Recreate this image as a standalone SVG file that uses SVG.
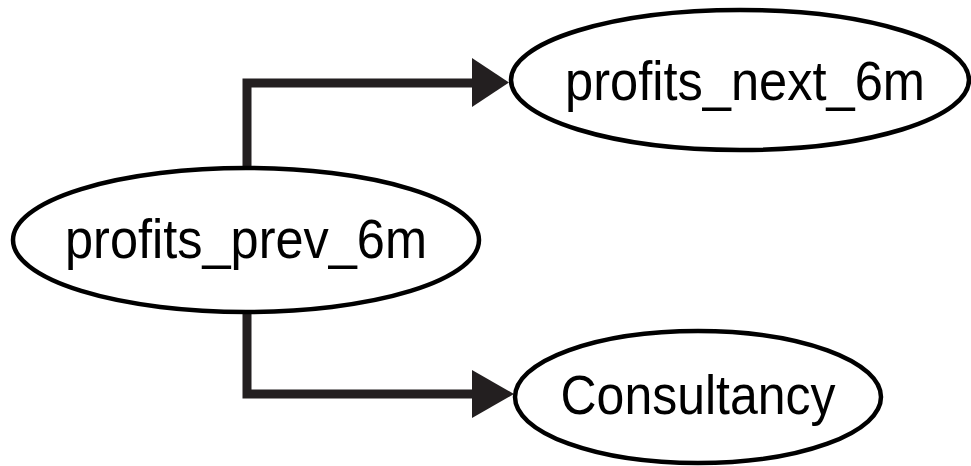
<svg xmlns="http://www.w3.org/2000/svg" width="971" height="466" viewBox="0 0 971 466">
<style>
.node ellipse{fill:#fff;stroke:#000;stroke-width:4.5}
.node text{font-family:"Liberation Sans",Arial,sans-serif;font-size:55px;fill:#000;text-anchor:middle}
.edge{fill:none;stroke:#231f20;stroke-width:9}
.head{fill:#231f20}
</style>
<rect width="971" height="466" fill="#fff"/>
<g id="connectors">
<path class="edge" d="M247 167 V83 H476"/>
<polygon class="head" points="472,58 509,82.5 472,107"/>
<path class="edge" d="M247 313 V394 H476"/>
<polygon class="head" points="472,370 514,394 472,418"/>
</g>
<g id="profits_prev_6m" class="node">
<ellipse cx="246" cy="240" rx="233" ry="72"/>
<text x="246" y="258" textLength="362" lengthAdjust="spacingAndGlyphs">profits_prev_6m</text>
</g>
<g id="profits_next_6m" class="node">
<ellipse cx="740" cy="80" rx="229" ry="70"/>
<text x="745" y="100" textLength="360" lengthAdjust="spacingAndGlyphs">profits_next_6m</text>
</g>
<g id="Consultancy" class="node">
<ellipse cx="698" cy="397" rx="183" ry="66"/>
<text x="698" y="414" textLength="275" lengthAdjust="spacingAndGlyphs">Consultancy</text>
</g>
</svg>
